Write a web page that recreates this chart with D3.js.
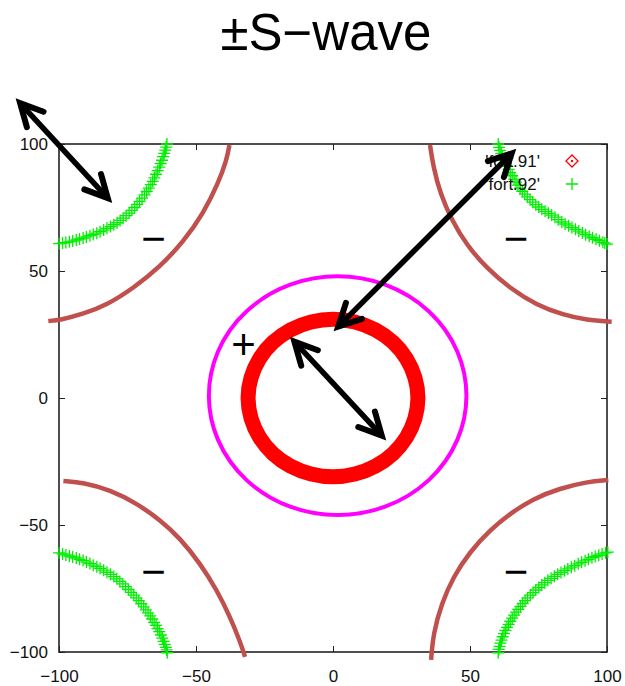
<!DOCTYPE html>
<html>
<head>
<meta charset="utf-8">
<script src="https://cdn.jsdelivr.net/npm/d3@7"></script>
<style>
  html, body { margin: 0; padding: 0; background: #fff; }
  svg { display: block; }
  text { font-family: "Liberation Sans", Arial, Helvetica, sans-serif; }
</style>
</head>
<body>
<svg id="chart" width="625" height="686"></svg>
<script>
// ---- data ----------------------------------------------------------
const titleText = "±S−wave";
const xTicks = [-100, -50, 0, 50, 100];
const yTicks = [-100, -50, 0, 50, 100];
const seriesLabels = ["'fort.91'", "'fort.92'"];

// fort.91 : hole pocket ring around the zone centre
const fort91 = [
  [31, 0], [29.9, 8.0], [26.8, 15.5], [21.9, 21.9], [15.5, 26.8], [8.0, 29.9],
  [0, 31], [-8.0, 29.9], [-15.5, 26.8], [-21.9, 21.9], [-26.8, 15.5], [-29.9, 8.0],
  [-31, 0], [-29.9, -8.0], [-26.8, -15.5], [-21.9, -21.9], [-15.5, -26.8], [-8.0, -29.9],
  [0, -31], [8.0, -29.9], [15.5, -26.8], [21.9, -21.9], [26.8, -15.5], [29.9, -8.0]
];

// fort.92 : electron pockets at the four corners
const fort92TopLeft = [
  [-100, 60.8], [-98.7, 61.0], [-97.5, 61.2], [-96.2, 61.5], [-95, 61.8], [-93.7, 62.2],
  [-92.5, 62.6], [-91.2, 63.0], [-90, 63.4], [-88.7, 63.9], [-87.5, 64.4], [-86.2, 64.9],
  [-85, 65.5], [-83.7, 66.1], [-82.5, 66.8], [-81.2, 67.5], [-80, 68.2], [-78.8, 69.0],
  [-77.7, 69.9], [-76.6, 70.8], [-75.5, 71.8], [-74.4, 72.8], [-73.4, 73.9], [-72.4, 75.0],
  [-71.5, 76.2], [-70.6, 77.4], [-69.7, 78.7], [-68.8, 80.0], [-68, 81.3], [-67.2, 82.6],
  [-66.5, 84.0], [-65.8, 85.3], [-65.2, 86.7], [-64.6, 88.1], [-64, 89.5], [-63.4, 90.9],
  [-62.9, 92.3], [-62.4, 93.6], [-62, 95.0], [-61.6, 96.3], [-61.2, 97.6], [-60.9, 98.8],
  [-60.6, 100]
];
const fort92TopRight = [
  [60.3, 100], [60.6, 98.7], [61, 97.5], [61.4, 96.2], [61.9, 95], [62.4, 93.7],
  [62.9, 92.5], [63.5, 91.2], [64.1, 90], [64.7, 88.7], [65.4, 87.5], [66.1, 86.2],
  [66.8, 85], [67.5, 83.8], [68.3, 82.6], [69.1, 81.4], [70, 80.3], [70.9, 79.2],
  [71.9, 78.1], [72.9, 77.1], [74, 76.1], [75.1, 75.2], [76.2, 74.3], [77.4, 73.5],
  [78.6, 72.7], [79.8, 72.0], [81, 71.2], [82.2, 70.2], [83.5, 69.3], [84.7, 68.5],
  [86, 67.8], [87.2, 67.1], [88.5, 66.4], [89.7, 65.7], [91, 65], [92.2, 64.3],
  [93.5, 63.7], [94.7, 63.1], [96, 62.5], [97.2, 61.9], [98.5, 61.3], [99.2, 61.0],
  [100, 60.6]
];
const fort92BottomLeft = [
  [-100, -61], [-98.7, -61.4], [-97.5, -61.8], [-96.2, -62.2], [-95, -62.6], [-93.7, -63.0],
  [-92.5, -63.5], [-91.2, -64.0], [-90, -64.6], [-88.7, -65.2], [-87.5, -65.8], [-86.2, -66.4],
  [-85, -67.1], [-83.7, -67.8], [-82.5, -68.6], [-81.2, -69.4], [-80, -70.3], [-78.9, -71.2],
  [-77.8, -72.2], [-76.7, -73.2], [-75.7, -74.3], [-74.7, -75.4], [-73.7, -76.5], [-72.7, -77.6],
  [-71.8, -78.7], [-70.9, -79.8], [-70, -81], [-69.1, -82.2], [-68.3, -83.4], [-67.5, -84.6],
  [-66.7, -85.8], [-66.0, -87.0], [-65.3, -88.3], [-64.6, -89.5], [-64, -90.8], [-63.4, -92.0],
  [-62.8, -93.3], [-62.3, -94.5], [-61.8, -95.8], [-61.4, -97.0], [-61, -98.2], [-60.7, -99.2],
  [-60.5, -100.3]
];
const fort92BottomRight = [
  [60.3, -100.3], [60.5, -99.0], [60.8, -97.8], [61.1, -96.5], [61.5, -95.3], [61.9, -94.0],
  [62.4, -92.8], [62.9, -91.5], [63.5, -90.3], [64.1, -89.1], [64.7, -87.9], [65.4, -86.7],
  [66.1, -85.5], [66.8, -84.3], [67.6, -83.2], [68.4, -82.0], [69.2, -80.9], [70.1, -79.8],
  [71, -78.7], [72.0, -77.6], [73, -76.6], [74.0, -75.6], [75.1, -74.6], [76.2, -73.6],
  [77.3, -72.7], [78.4, -71.8], [79.6, -71], [80.8, -70.2], [82, -69.4], [83.2, -68.7],
  [84.5, -68], [85.7, -67.3], [87, -66.6], [88.2, -66.0], [89.5, -65.3], [90.7, -64.7],
  [92, -64.1], [93.2, -63.5], [94.5, -62.9], [95.7, -62.4], [97, -61.9], [98.2, -61.4],
  [99.5, -61], [100.3, -60.7]
];

// nodal guide curves around the corners
const nodeTopLeft = [
  [-103.9, 30.3], [-99.6, 30.7], [-91.1, 33.1], [-82.6, 36.6], [-72.9, 43.2], [-63.1, 51.7],
  [-54.6, 61.5], [-47.3, 72.7], [-41.9, 84.5], [-38.8, 93.7], [-37.8, 99.6]
];
const nodeBottomLeft = [
  [-98.4, -32.7], [-91.1, -33.3], [-81.4, -36.2], [-71.6, -41.5], [-63.1, -48.0], [-55.8, -55.2],
  [-48.5, -65.1], [-42.4, -75.6], [-37.6, -86.1], [-33.9, -95.9], [-32.1, -101.9]
];
const nodeTopRight = [
  [35.4, 99.6], [36.6, 91.1], [39.1, 80.6], [43.3, 70.1], [48.8, 60.2], [56.1, 51.1],
  [64.6, 43.2], [74.3, 36.6], [84.1, 32.7], [92.6, 30.7], [101.7, 30.0]
];
const nodeBottomRight = [
  [100.5, -32.3], [92.6, -33.0], [82.8, -35.6], [73.1, -39.6], [64.6, -45.5], [57.3, -52.0],
  [50.0, -60.5], [43.9, -70.4], [39.7, -80.8], [36.6, -92.6], [35.8, -103.1]
];

// Fermi-surface guide circle
const guideCircle = { cx: 1.7, cy: 0.9, r: 47 };

// sign annotations
const minusMarks = [[-65.5, 62.2], [66.8, 62.2], [-65.5, -69.0], [66.8, -69.0]];
const plusMarks = [[-32.7, 20.5]];

// double-headed scattering arrows
const arrows = [
  [[-114.2, 116.1], [-82.2, 78.7]],
  [[1.9, 28.1], [65.2, 96.3]],
  [[-14.1, 22.2], [17.8, -14.8]]
];

// ---- layout --------------------------------------------------------
const W = 625, H = 686;
const margin = { left: 59, right: 18, top: 144, bottom: 34 };
const svg = d3.select("#chart");

const x = d3.scaleLinear().domain([-100, 100]).range([margin.left, W - margin.right]);
const y = d3.scaleLinear().domain([-100, 100]).range([H - margin.bottom, margin.top]);

const colors = {
  ring: "#ff0000",
  pocket: "#00ee00",
  node: "#c0504d",
  guide: "#ff00ff",
  ink: "#000000",
  axis: "#222222"
};

// title
svg.append("text")
  .attr("x", 326).attr("y", 50)
  .attr("text-anchor", "middle")
  .attr("font-size", 51)
  .attr("fill", "#000")
  .text(titleText);

// axes with inward ticks on all four sides
const tickLen = 6;
svg.append("g")
  .attr("transform", `translate(0,${y(-100)})`)
  .call(d3.axisBottom(x).tickValues(xTicks).tickSizeInner(-tickLen).tickSizeOuter(0).tickPadding(18))
  .call(g => g.select(".domain").remove());
svg.append("g")
  .attr("transform", `translate(${x(-100)},0)`)
  .call(d3.axisLeft(y).tickValues(yTicks).tickSizeInner(-tickLen).tickSizeOuter(0).tickPadding(11))
  .call(g => g.select(".domain").remove());
svg.append("g")
  .attr("transform", `translate(0,${y(100)})`)
  .call(d3.axisTop(x).tickValues(xTicks).tickSizeInner(-tickLen).tickSizeOuter(0).tickFormat(""))
  .call(g => g.select(".domain").remove());
svg.append("g")
  .attr("transform", `translate(${x(100)},0)`)
  .call(d3.axisRight(y).tickValues(yTicks).tickSizeInner(-tickLen).tickSizeOuter(0).tickFormat(""))
  .call(g => g.select(".domain").remove());

svg.selectAll(".tick line").attr("stroke", colors.axis).attr("stroke-width", 1);
svg.selectAll(".tick text")
  .attr("font-size", 17)
  .attr("fill", "#111")
  .attr("font-family", "'Liberation Sans', Arial, sans-serif");

svg.append("rect")
  .attr("x", x(-100)).attr("y", y(100))
  .attr("width", x(100) - x(-100)).attr("height", y(-100) - y(100))
  .attr("fill", "none").attr("stroke", colors.axis).attr("stroke-width", 1.6);

// nodal curves
const line = d3.line().x(d => x(d[0])).y(d => y(d[1])).curve(d3.curveBasis);
svg.append("g").selectAll("path")
  .data([nodeTopLeft, nodeBottomLeft, nodeTopRight, nodeBottomRight])
  .join("path")
  .attr("d", line)
  .attr("fill", "none")
  .attr("stroke", colors.node)
  .attr("stroke-width", 4.5);

// fort.92 crosses
const crossPath = "M-6,0H6M0,-6V6";
const pockets = [].concat(fort92TopLeft, fort92TopRight, fort92BottomLeft, fort92BottomRight);
svg.append("g").selectAll("path")
  .data(pockets)
  .join("path")
  .attr("transform", d => `translate(${x(d[0])},${y(d[1])})`)
  .attr("d", crossPath)
  .attr("fill", "none")
  .attr("stroke", colors.pocket)
  .attr("stroke-width", 1.3);

// fort.91 ring
const ringLine = d3.line().x(d => x(d[0])).y(d => y(d[1])).curve(d3.curveCardinalClosed);
svg.append("path")
  .datum(fort91)
  .attr("d", ringLine)
  .attr("fill", "none")
  .attr("stroke", colors.ring)
  .attr("stroke-width", 15);

// guide circle
svg.append("ellipse")
  .attr("cx", x(guideCircle.cx)).attr("cy", y(guideCircle.cy))
  .attr("rx", x(guideCircle.r) - x(0)).attr("ry", y(0) - y(guideCircle.r))
  .attr("fill", "none")
  .attr("stroke", colors.guide)
  .attr("stroke-width", 4);

// legend
const legend = svg.append("g");
const legendRows = [
  { label: seriesLabels[0], y: 161, kind: "diamond" },
  { label: seriesLabels[1], y: 184, kind: "cross" }
];
legendRows.forEach(r => {
  legend.append("text")
    .attr("x", 540).attr("y", r.y + 6)
    .attr("text-anchor", "end")
    .attr("font-size", 17)
    .attr("fill", "#111")
    .text(r.label);
  if (r.kind === "diamond") {
    legend.append("path")
      .attr("transform", `translate(572,${r.y})`)
      .attr("d", "M0,-6L6,0L0,6L-6,0Z")
      .attr("fill", "none").attr("stroke", colors.ring).attr("stroke-width", 1.3);
    legend.append("circle")
      .attr("cx", 572).attr("cy", r.y).attr("r", 1.2).attr("fill", colors.ring);
  } else {
    legend.append("path")
      .attr("transform", `translate(572,${r.y})`)
      .attr("d", crossPath)
      .attr("fill", "none").attr("stroke", colors.pocket).attr("stroke-width", 1.3);
  }
});

// sign annotations
svg.append("g").selectAll("text")
  .data(minusMarks)
  .join("text")
  .attr("x", d => x(d[0])).attr("y", d => y(d[1]) + 13)
  .attr("text-anchor", "middle")
  .attr("font-size", 42)
  .attr("fill", colors.ink)
  .text("−");
svg.append("g").selectAll("text")
  .data(plusMarks)
  .join("text")
  .attr("x", d => x(d[0])).attr("y", d => y(d[1]) + 13)
  .attr("text-anchor", "middle")
  .attr("font-size", 42)
  .attr("fill", colors.ink)
  .text("+");

// arrows
const headLen = 25, headAngle = 27 * Math.PI / 180;
function head(tip, from) {
  const a = Math.atan2(from[1] - tip[1], from[0] - tip[0]);
  const p1 = [tip[0] + headLen * Math.cos(a + headAngle), tip[1] + headLen * Math.sin(a + headAngle)];
  const p2 = [tip[0] + headLen * Math.cos(a - headAngle), tip[1] + headLen * Math.sin(a - headAngle)];
  return `M${p1[0]},${p1[1]}L${tip[0]},${tip[1]}L${p2[0]},${p2[1]}`;
}
const arrowG = svg.append("g");
arrows.forEach(([a, b]) => {
  const pa = [x(a[0]), y(a[1])], pb = [x(b[0]), y(b[1])];
  arrowG.append("line")
    .attr("x1", pa[0]).attr("y1", pa[1]).attr("x2", pb[0]).attr("y2", pb[1])
    .attr("stroke", colors.ink).attr("stroke-width", 5.5);
  arrowG.append("path")
    .attr("d", head(pa, pb) + head(pb, pa))
    .attr("fill", "none")
    .attr("stroke", colors.ink)
    .attr("stroke-width", 6)
    .attr("stroke-linejoin", "miter")
    .attr("stroke-linecap", "round");
});
</script>
</body>
</html>
